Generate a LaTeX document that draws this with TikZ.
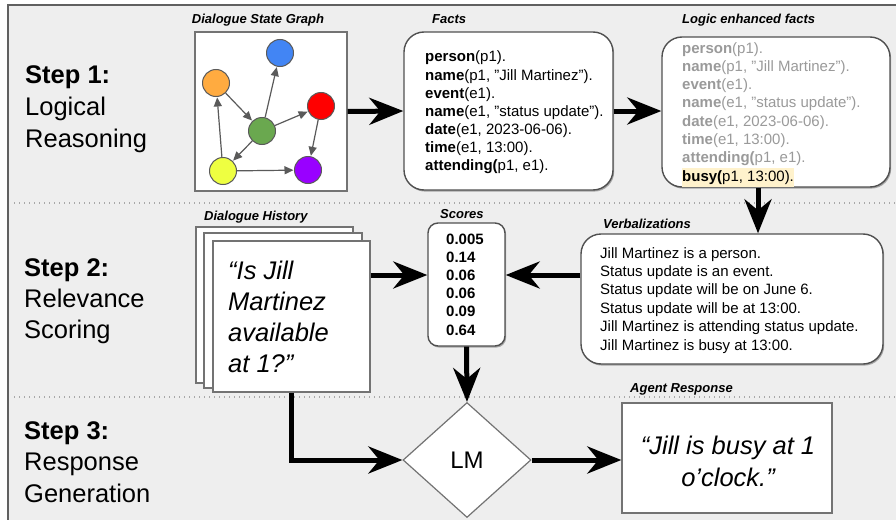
\documentclass[tikz,border=0pt]{standalone}
\usepackage{fontspec}
\setmainfont{Liberation Sans}
\usetikzlibrary{arrows.meta,shapes.geometric,shadows}

\definecolor{bg}{HTML}{EEEEEE}
\definecolor{framec}{HTML}{606060}
\definecolor{boxline}{HTML}{505050}
\definecolor{grayt}{HTML}{9A9A9A}
\definecolor{hl}{HTML}{FFF2CC}
\definecolor{nblue}{HTML}{4285F4}
\definecolor{norange}{HTML}{FFAB40}
\definecolor{nred}{HTML}{FF0000}
\definecolor{ngreen}{HTML}{6AA84F}
\definecolor{nyellow}{HTML}{EEFF41}
\definecolor{npurple}{HTML}{9900FF}
\definecolor{edgec}{HTML}{5A5A5A}
\definecolor{sepc}{HTML}{A8A8A8}

\begin{document}
\begin{tikzpicture}[x=1pt,y=-1pt,
  steptitle/.style={anchor=base west, inner sep=0pt, font=\fontsize{25.5}{31}\selectfont\bfseries},
  stepline/.style={anchor=base west, inner sep=0pt, font=\fontsize{25.5}{31}\selectfont},
  boxtitle/.style={anchor=base west, inner sep=0pt, font=\fontsize{13}{15}\selectfont\bfseries\itshape},
  txt/.style={anchor=base west, inner sep=0pt, font=\fontsize{15}{18}\selectfont},
  bigq/.style={anchor=base west, inner sep=0pt, font=\fontsize{25.5}{31}\selectfont\itshape},
  rbox/.style={draw=boxline, line width=1.4pt, fill=white, rounded corners=20pt,
     drop shadow={shadow xshift=1.2pt, shadow yshift=-1.6pt, opacity=0.3, fill=black}},
  sqbox/.style={draw=boxline!80, line width=1.3pt, fill=white},
  gnode/.style={circle, draw=edgec, line width=1pt, minimum size=27pt, inner sep=0pt},
  gedge/.style={draw=edgec, line width=1.2pt, -{Triangle[length=9pt,width=8pt]}, shorten >=0.5pt},
  big/.style={line width=5pt, -{Stealth[length=34pt,width=27pt,inset=11pt]}},
  sepline/.style={draw=sepc, line width=1.4pt, dash pattern=on 1.4pt off 3.6pt}
]
\useasboundingbox (0,0) rectangle (896,519);
\clip (0,0) rectangle (896,519);

% outer frame
\draw[draw=framec, line width=2.6pt, fill=bg] (8,5) rectangle (920,540);

% separators
\draw[sepline] (14,203) -- (896,203);
\draw[sepline] (14,397) -- (896,397);

% step labels
\node[steptitle] (s1) at (25,83) {Step 1:};
\node[stepline] (s1a) at (25,115) {Logical};
\node[stepline] (s1b) at (25,147) {Reasoning};
\node[steptitle] (s2) at (24,276) {Step 2:};
\node[stepline] (s2a) at (24,307) {Relevance};
\node[stepline] (s2b) at (24,338) {Scoring};
\node[steptitle] (s3) at (24,439) {Step 3:};
\node[stepline] (s3a) at (24,470) {Response};
\node[stepline] (s3b) at (24,502) {Generation};

% dialogue state graph
\node[boxtitle, anchor=base] (tg) at (258,23.5) {Dialogue State Graph};
\node[sqbox, minimum width=152pt, minimum height=159pt, inner sep=0pt] (graph) at (271,111.5) {};
\node[gnode, fill=nblue] (gb) at (280,53) {};
\node[gnode, fill=norange] (go) at (216,83) {};
\node[gnode, fill=nred] (gr) at (321,106) {};
\node[gnode, fill=ngreen] (gg) at (262,131) {};
\node[gnode, fill=nyellow] (gy) at (223,171) {};
\node[gnode, fill=npurple] (gp) at (308,170) {};
\draw[gedge] (go) -- (gg);
\draw[gedge] (gg) -- (gb);
\draw[gedge] (gg) -- (gr);
\draw[gedge] (gg) -- (gy);
\draw[gedge] (gy) -- (go);
\draw[gedge] (gy) -- (gp);
\draw[gedge] (gr) -- (gp);

% facts
\node[boxtitle] (tf) at (432,23.5) {Facts};
\node[rbox, minimum width=209pt, minimum height=158pt, inner sep=0pt] (facts) at (508.5,111) {};
\foreach \t [count=\i] in {{\textbf{person}(p1).},{\textbf{name}(p1, "Jill Martinez").},{\textbf{event}(e1).},{\textbf{name}(e1, ”status update”).},{\textbf{date}(e1, 2023-06-06).},{\textbf{time}(e1, 13:00).},{\textbf{attending(}p1, e1).}}
  \node[txt] (fl\i) at (425,{62+18*(\i-1)}) {\t};

% logic enhanced facts
\node[boxtitle] (tl) at (682,23.5) {Logic enhanced facts};
\node[rbox, minimum width=228pt, minimum height=150pt, inner sep=0pt] (logic) at (776,112) {};
\foreach \t [count=\i] in {{\textbf{person}(p1).},{\textbf{name}(p1, "Jill Martinez").},{\textbf{event}(e1).},{\textbf{name}(e1, ”status update”).},{\textbf{date}(e1, 2023-06-06).},{\textbf{time}(e1, 13:00).},{\textbf{attending(}p1, e1).}}
  \node[txt, text=grayt] (ll\i) at (682,{53+18.3*(\i-1)}) {\t};
\node[txt, fill=hl, inner ysep=2.5pt] (ll8) at (682,181) {\textbf{busy(}p1, 13:00).};

% verbalizations
\node[boxtitle] (tv) at (603,228) {Verbalizations};
\node[rbox, minimum width=302pt, minimum height=130pt, inner sep=0pt] (verb) at (732,299) {};
\foreach \t [count=\i] in {{Jill Martinez is a person.},{Status update is an event.},{Status update will be on June 6.},{Status update will be at 13:00.},{Jill Martinez is attending status update.},{Jill Martinez is busy at 13:00.}}
  \node[txt] (vl\i) at (600,{258+18.4*(\i-1)}) {\t};

% scores
\node[boxtitle] (ts) at (440,218) {Scores};
\node[rbox, rounded corners=10pt, minimum width=77pt, minimum height=123pt, inner sep=0pt] (scores) at (466.5,284.5) {};
\foreach \t [count=\i] in {0.005,0.14,0.06,0.06,0.09,0.64}
  \node[txt, font=\fontsize{15}{18}\selectfont\bfseries] (sc\i) at (446,{244+18.2*(\i-1)}) {\t};

% dialogue history
\node[boxtitle] (th) at (204,220) {Dialogue History};
\node[sqbox, minimum width=157pt, minimum height=156pt, inner sep=0pt] (hist1) at (274.5,305) {};
\node[sqbox, minimum width=158pt, minimum height=155pt, inner sep=0pt] (hist2) at (283,310.5) {};
\node[sqbox, minimum width=157pt, minimum height=151pt, inner sep=0pt] (hist3) at (291.5,316.5) {};
\node[bigq] (q1) at (228,279) {“Is Jill};
\node[bigq] (q2) at (228,310) {Martinez};
\node[bigq] (q3) at (228,341) {available};
\node[bigq] (q4) at (228,372) {at 1?”};

% LM diamond
\node[diamond, draw=boxline!80, line width=1.2pt, fill=white, minimum width=128pt, minimum height=115pt, aspect=1.11, inner sep=0pt, font=\fontsize{24}{28}\selectfont] (lm) at (467,460) {LM};

% agent response
\node[boxtitle] (ta) at (630,392) {Agent Response};
\node[sqbox, minimum width=210pt, minimum height=110pt, inner sep=0pt] (resp) at (727,458) {};
\node[bigq, anchor=base] (r1) at (728,454) {“Jill is busy at 1};
\node[bigq, anchor=base] (r2) at (728,486) {o’clock.”};

% main arrows
\coordinate (row2) at (0,275);
\coordinate (col3) at (758,0);
\draw[big] (graph.east) -- (facts.west);
\draw[big] (facts.east) -- (facts.east -| logic.west);
\draw[big] (col3 |- logic.south) -- (col3 |- verb.north);
\draw[big] (row2 -| verb.west) -- (row2 -| scores.east);
\draw[big] (row2 -| hist3.east) -- (row2 -| scores.west);
\draw[big] (scores.south) -- (lm.north);
\draw[big] (hist3.south) |- (lm.west);
\draw[big] (lm.east) -- (lm.east -| resp.west);
\end{tikzpicture}
\end{document}
